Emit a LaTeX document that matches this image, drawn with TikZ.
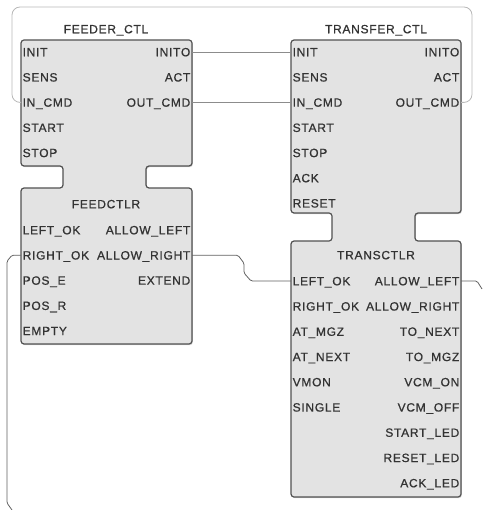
\documentclass[tikz,border=0pt]{standalone}
\usepackage{fontspec}
\setmainfont{Liberation Sans}[LetterSpace=6, FakeBold=0.8]
\usetikzlibrary{shadows}
\catcode`\_=12

\begin{document}
\begin{tikzpicture}[
    x=1pt, y=-1pt,
    block/.style={draw=black!68, fill=gray!22, line width=1.2pt, rounded corners=3pt, drop shadow={shadow xshift=0.8pt, shadow yshift=-1.2pt, opacity=0.35}},
    port/.style={font=\fontsize{12}{14}\selectfont, text=black!80, inner xsep=1.5pt, inner ysep=0pt, text height=8.6pt, text depth=0pt},
    inport/.style={port, anchor=west},
    outport/.style={port, anchor=east},
    title/.style={port},
    wire/.style={draw=black!45, line width=0.8pt},
    lowwire/.style={draw=black!62, line width=0.8pt, rounded corners=1.5pt},
    loopwire/.style={draw=black!28, line width=0.8pt, rounded corners=8pt}
]
\useasboundingbox (0,0) rectangle (482,510);

% Outlines (upper block, neck, lower block)
\path[block] (21,40) -- (192,40) -- (192,166) -- (146,166) -- (146,188) -- (192,188) -- (192,344) -- (21,344) -- (21,188) -- (63,188) -- (63,166) -- (21,166) -- cycle;
\path[block] (291,40) -- (461,40) -- (461,213) -- (415,213) -- (415,241) -- (461,241) -- (461,497) -- (291,497) -- (291,241) -- (332,241) -- (332,213) -- (291,213) -- cycle;

% Titles
\node[title] (fc-title) at (106,29) {FEEDER_CTL};
\node[title] (tc-title) at (376,29) {TRANSFER_CTL};
\node[title] (fd-title) at (106,204) {FEEDCTLR};
\node[title] (ts-title) at (376,255) {TRANSCTLR};

% FEEDER_CTL ports
\foreach \p [count=\i from 0] in {INIT,SENS,IN_CMD,START,STOP}
    \node[inport] (fc-\p) at (21,52+25.2*\i) {\p};
\foreach \p [count=\i from 0] in {INITO,ACT,OUT_CMD}
    \node[outport] (fc-\p) at (192,52+25.2*\i) {\p};

% TRANSFER_CTL ports
\foreach \p [count=\i from 0] in {INIT,SENS,IN_CMD,START,STOP,ACK,RESET}
    \node[inport] (tc-\p) at (291,52+25.2*\i) {\p};
\foreach \p [count=\i from 0] in {INITO,ACT,OUT_CMD}
    \node[outport] (tc-\p) at (461,52+25.2*\i) {\p};

% FEEDCTLR ports
\foreach \p [count=\i from 0] in {LEFT_OK,RIGHT_OK,POS_E,POS_R,EMPTY}
    \node[inport] (fd-\p) at (21,230+25.2*\i) {\p};
\foreach \p [count=\i from 0] in {ALLOW_LEFT,ALLOW_RIGHT,EXTEND}
    \node[outport] (fd-\p) at (192,230+25.2*\i) {\p};

% TRANSCTLR ports
\foreach \p [count=\i from 0] in {LEFT_OK,RIGHT_OK,AT_MGZ,AT_NEXT,VMON,SINGLE}
    \node[inport] (ts-\p) at (291,281+25.25*\i) {\p};
\foreach \p [count=\i from 0] in {ALLOW_LEFT,ALLOW_RIGHT,TO_NEXT,TO_MGZ,VCM_ON,VCM_OFF,START_LED,RESET_LED,ACK_LED}
    \node[outport] (ts-\p) at (461,281+25.25*\i) {\p};

% Free ends of the wires
\coordinate (fb-ne) at (472,7);
\coordinate (fb-nw) at (12,7);
\coordinate (al-out) at (482,289);
\coordinate (ro-bend) at (7,503);
\coordinate (ro-in) at (12,510);

% Wires
\draw[wire] (fc-INITO.east) -- (tc-INIT.west);
\draw[wire] (fc-OUT_CMD.east) -- (tc-IN_CMD.west);
\draw[loopwire] (tc-OUT_CMD.east) -| (fb-ne) -- (fb-nw) |- (fc-IN_CMD.west);
\draw[lowwire] (fd-ALLOW_RIGHT.east) -- ++(46,0) -- ++(6,8) -- ([shift={(-47,-8)}]ts-LEFT_OK.west) -- ([xshift=-40pt]ts-LEFT_OK.west) -- (ts-LEFT_OK.west);
\draw[lowwire] (ts-ALLOW_LEFT.east) -- ++(16,0) -- (al-out);
\draw[lowwire] (fd-RIGHT_OK.west) -- ++(-9,0) -- ++(-5,6) -- (ro-bend) -- (ro-in);

\end{tikzpicture}
\end{document}
